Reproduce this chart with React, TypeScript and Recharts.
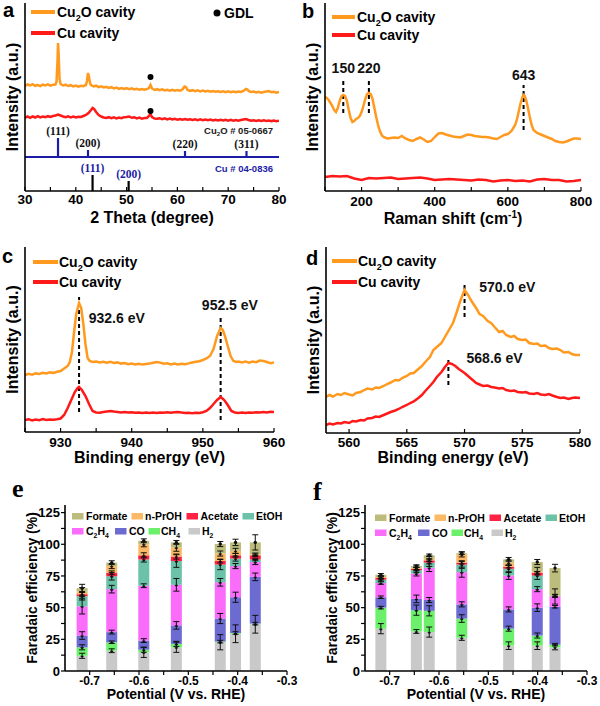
import React from "react";
import {
  LineChart,
  Line,
  BarChart,
  Bar,
  ErrorBar,
  XAxis,
  YAxis,
  ReferenceLine,
  ReferenceDot,
} from "recharts";

type Pt = [number, number];

const ORANGE = "#ff9a1f";
const RED = "#ff1a1a";
const NAVY = "#1c1ca6";
const SANS = "'Liberation Sans', Arial, sans-serif";
const SERIF = "'Liberation Serif', 'Times New Roman', serif";

// ---------- (a) XRD ----------
const xrdCu2O: Pt[] = [
  [30, 105], [30.5, 106.5], [31, 105.5], [31.5, 106.8], [32, 105.2], [32.5, 106], [33, 105], [33.5, 106.4],
  [34, 105.6], [34.5, 106.6], [35, 105.3], [35.5, 106.2], [36, 106.5], [36.2, 109], [36.4, 130], [36.5, 148],
  [36.6, 140], [36.8, 112], [37, 107], [37.5, 105.5], [38, 106.3], [38.5, 105], [39, 105.8], [39.5, 104.6],
  [40, 105.5], [40.5, 104.4], [41, 105.3], [41.5, 104.8], [42, 106], [42.2, 110], [42.4, 118], [42.6, 114],
  [42.8, 108], [43, 106], [43.5, 104.5], [44, 105.3], [44.5, 103.8], [45, 104.6], [45.5, 103.5], [46, 104.2],
  [46.5, 103], [47, 103.8], [47.5, 102.6], [48, 103.4], [48.5, 102.2], [49, 103], [49.5, 102], [50, 102.8],
  [50.5, 101.8], [51, 102.6], [51.5, 101.5], [52, 102.3], [52.5, 101.4], [53, 102], [53.5, 101.2], [54, 102],
  [54.4, 103], [54.7, 106], [55, 102.5], [55.5, 101], [56, 101.8], [56.5, 100.8], [57, 101.6], [57.5, 100.6],
  [58, 101.3], [58.5, 100.4], [59, 101.2], [59.5, 100.3], [60, 101], [60.5, 100.4], [61, 101.5], [61.4, 104.5],
  [61.7, 104], [62, 101], [62.5, 100], [63, 100.8], [63.5, 99.8], [64, 100.6], [64.5, 99.6], [65, 100.4],
  [65.5, 99.5], [66, 100.2], [66.5, 99.3], [67, 100], [67.5, 99.2], [68, 99.8], [68.5, 99], [69, 99.7],
  [69.5, 98.8], [70, 99.6], [70.5, 98.8], [71, 99.5], [71.5, 98.7], [72, 99.4], [72.5, 99], [73, 100],
  [73.5, 102], [73.8, 101.5], [74, 100], [74.5, 99], [75, 99.4], [75.5, 98.5], [76, 99.2], [76.5, 98.4],
  [77, 99], [77.5, 99.5], [78, 100], [78.5, 98.8], [79, 99.3], [79.5, 98.4], [80, 99],
];
const xrdCu: Pt[] = [
  [30, 73], [30.5, 74.5], [31, 73.2], [31.5, 74.6], [32, 73.5], [32.5, 74.8], [33, 73.6], [33.5, 74.5],
  [34, 73.8], [34.5, 74.8], [35, 74], [35.5, 75], [36, 75.5], [36.5, 76.5], [37, 75.5], [37.5, 74.5],
  [38, 73.8], [38.5, 74.6], [39, 73.6], [39.5, 74.4], [40, 73.5], [40.5, 74.3], [41, 74], [41.5, 75],
  [42, 76], [42.5, 78], [43, 81], [43.3, 83], [43.6, 82], [44, 79], [44.5, 76], [45, 74.5], [45.5, 73.5],
  [46, 73], [46.5, 73.8], [47, 72.8], [47.5, 73.6], [48, 72.6], [48.5, 73.4], [49, 72.8], [49.5, 73.8],
  [50, 74], [50.5, 74.5], [51, 73.2], [51.5, 73.8], [52, 72.6], [52.5, 73.4], [53, 72.4], [53.5, 73],
  [54, 73], [54.4, 75], [54.7, 77], [55, 74], [55.5, 72.5], [56, 72.2], [56.5, 72.8], [57, 71.8],
  [57.5, 72.6], [58, 71.6], [58.5, 72.4], [59, 71.5], [59.5, 72.2], [60, 71.4], [60.5, 72], [61, 71.3],
  [61.5, 72], [62, 71.2], [62.5, 71.8], [63, 71], [63.5, 71.7], [64, 70.9], [64.5, 71.6], [65, 70.8],
  [65.5, 71.5], [66, 70.7], [66.5, 71.4], [67, 70.6], [67.5, 71.3], [68, 70.5], [68.5, 71.2], [69, 70.5],
  [69.5, 71.2], [70, 70.4], [70.5, 71.1], [71, 70.4], [71.5, 71], [72, 70.3], [72.5, 71], [73, 71.5],
  [73.5, 72], [74, 71], [74.5, 70.3], [75, 70.8], [75.5, 70.1], [76, 70.7], [76.5, 70], [77, 70.6],
  [77.5, 70], [78, 70.5], [78.5, 69.9], [79, 70.4], [79.5, 69.8], [80, 70.2],
];
const gdlMarks: Pt[] = [[54.7, 114], [54.7, 80]];
const cu2oRefBase = 34;
const cu2oRefPos = [36.5, 42.4, 61.5, 73.6];
const cu2oRefTop = [53, 41, 40, 40];
const cu2oRefHkl = ["(111)", "(200)", "(220)", "(311)"];
const cuRefPos = [43.3, 50.4];
const cuRefTop = [16, 10];
const cuRefHkl = ["(111)", "(200)"];

// ---------- (b) Raman ----------
const ramanCu2O: Pt[] = [
  [100, 94], [105, 93], [110, 91], [115, 88], [120, 85], [125, 81], [130, 79], [135, 83], [140, 90],
  [145, 95], [150, 96], [155, 95], [160, 90], [165, 81], [170, 73], [175, 69], [180, 70], [185, 72],
  [190, 73], [195, 75], [200, 79], [205, 85], [210, 92], [215, 97], [220, 98], [225, 97], [230, 92],
  [235, 83], [240, 74], [245, 66], [250, 60], [255, 56], [260, 54], [270, 52.5], [280, 53], [290, 53.5],
  [300, 53], [310, 55], [320, 52.5], [330, 51], [340, 50], [350, 52], [360, 53.5], [370, 51.5], [380, 49],
  [390, 50], [400, 54], [410, 57.5], [420, 58], [430, 56.5], [440, 55.5], [450, 54.5], [460, 54],
  [470, 53.5], [480, 55], [490, 56.5], [500, 56], [510, 55], [520, 54.5], [530, 54], [540, 54],
  [550, 53.5], [560, 52.5], [570, 52], [580, 54], [590, 56], [600, 57], [610, 60], [620, 66], [625, 72],
  [630, 80], [635, 88], [640, 94], [643, 96], [646, 95], [650, 91], [655, 83], [660, 74], [665, 66],
  [670, 61], [680, 58], [690, 56.5], [700, 55], [710, 53.5], [720, 52], [730, 50], [740, 49], [750, 48.5],
  [760, 49.5], [770, 51], [780, 52.5], [790, 52.5], [800, 52],
];
const ramanCu: Pt[] = [
  [100, 14], [120, 15], [140, 14.5], [160, 15], [180, 12.5], [200, 11], [220, 13], [240, 12.5], [260, 13],
  [280, 13.5], [300, 12], [320, 12.5], [340, 13], [360, 13.5], [380, 12.5], [400, 11], [420, 11.5],
  [440, 12], [460, 11.5], [480, 11], [500, 10.5], [520, 11.5], [540, 11], [560, 9.5], [580, 10.5],
  [600, 11], [620, 10], [640, 10.5], [660, 9.5], [680, 11.5], [700, 12], [720, 11], [740, 11], [760, 9.5],
  [780, 10], [800, 11],
];
const ramanPeaks = [150, 220, 643];
const ramanPeakLow = [78, 78, 61];
const ramanPeakHigh = [113, 113, 106];

// ---------- (c) Cu 2p XPS ----------
const xpsCu2O: Pt[] = [
  [925, 57], [925.5, 58.2], [926, 57.4], [926.5, 58.6], [927, 58], [927.5, 59.2], [928, 58.5], [928.5, 59.6],
  [929, 59], [929.5, 60.2], [930, 61], [930.5, 63.5], [931, 66], [931.3, 70], [931.6, 80], [931.9, 100],
  [932.2, 118], [932.6, 129], [932.9, 124], [933.2, 108], [933.5, 88], [933.8, 74], [934.1, 71], [934.5, 70],
  [935, 70.5], [935.5, 69.5], [936, 70.3], [936.5, 69.2], [937, 70.2], [937.5, 69], [938, 69.6], [938.5, 68.4],
  [939, 69], [939.5, 67.8], [940, 68.5], [940.5, 67.6], [941, 68.2], [941.5, 67.4], [942, 68], [942.5, 68.4],
  [943, 69.2], [943.5, 70], [944, 69.4], [944.5, 68.2], [945, 68.8], [945.5, 67.6], [946, 68.4], [946.5, 67.5],
  [947, 68.3], [947.5, 67.8], [948, 68.6], [948.5, 69.5], [949, 70.2], [949.5, 70.8], [950, 72], [950.5, 73.5],
  [951, 76], [951.5, 83], [952, 96], [952.5, 104], [952.8, 102], [953.1, 96], [953.5, 86], [953.9, 76],
  [954.3, 71], [954.7, 70], [955, 70.5], [955.5, 69.6], [956, 70.4], [956.5, 69.4], [957, 70.5], [957.5, 69.8],
  [958, 71.5], [958.5, 71], [959, 70], [959.5, 68.8], [960, 69.5],
];
const xpsCu: Pt[] = [
  [925, 12], [925.5, 12.8], [926, 11.5], [926.5, 12.4], [927, 11.8], [927.5, 12.9], [928, 12], [928.5, 12.6],
  [929, 12.2], [929.5, 12.8], [930, 13.5], [930.5, 17], [931, 24], [931.5, 32], [932, 40], [932.4, 44],
  [932.6, 45], [933, 42], [933.5, 36], [934, 28], [934.5, 21], [935, 19.5], [935.5, 19.2], [936, 20],
  [936.5, 20.5], [937, 21], [937.5, 20.4], [938, 20], [938.5, 19.6], [939, 20], [939.5, 19.4], [940, 19.8],
  [940.5, 19.2], [941, 19.6], [941.5, 19.1], [942, 19.5], [942.5, 19], [943, 19.4], [943.5, 19], [944, 19.5],
  [944.5, 19.2], [945, 19.8], [945.5, 19.3], [946, 19.7], [946.5, 20], [947, 19.4], [947.5, 19], [948, 19.3],
  [948.5, 18.8], [949, 19.2], [949.5, 19], [950, 19.8], [950.5, 21], [951, 24], [951.5, 28], [952, 32],
  [952.5, 35], [953, 32], [953.5, 27], [954, 21], [954.5, 19.5], [955, 19], [955.5, 19.5], [956, 19],
  [956.5, 19.6], [957, 19.2], [957.5, 19.8], [958, 19.5], [958.5, 20], [959, 19.6], [959.5, 20.2], [960, 20],
];
const xpsPeaks = [932.6, 952.5];
const xpsPeakLow = [20, 12];
const xpsPeakHigh = [135, 115];
const xpsLabels = ["932.6 eV", "952.5 eV"];
const xpsLabelAt: Pt[] = [[937.9, 114], [953.8, 127]];

// ---------- (d) Cu LMM ----------
const lmmCu2O: Pt[] = [
  [558, 36], [558.3, 38], [558.6, 36.5], [559, 39], [559.3, 38], [559.6, 40], [560, 38.5], [560.3, 37.5],
  [560.6, 40], [561, 41], [561.3, 43], [561.6, 44.5], [562, 43.5], [562.3, 45.5], [562.6, 45], [563, 47],
  [563.3, 49], [563.6, 50.5], [564, 53], [564.3, 52.5], [564.6, 55], [565, 57], [565.3, 59.5], [565.6, 60],
  [566, 64], [566.3, 67], [566.6, 71], [567, 76], [567.3, 83], [567.6, 86], [568, 90], [568.3, 96],
  [568.6, 102], [569, 110], [569.3, 120], [569.6, 131], [570, 143], [570.3, 138], [570.6, 132], [571, 125],
  [571.3, 119], [571.6, 117], [572, 112], [572.3, 110], [572.6, 106], [573, 101], [573.3, 102], [573.6, 98],
  [574, 96], [574.3, 97], [574.6, 94], [575, 93], [575.3, 93.5], [575.6, 90], [576, 89], [576.3, 89.5],
  [576.6, 87], [577, 87.5], [577.3, 85], [577.6, 84], [578, 84.5], [578.3, 83], [578.6, 80.5], [579, 81],
  [579.3, 79], [579.6, 78], [580, 78],
];
const lmmCu: Pt[] = [
  [558, 8], [558.3, 9.5], [558.6, 8.5], [559, 10], [559.3, 9.5], [559.6, 11], [560, 10], [560.3, 12],
  [560.6, 11.5], [561, 13], [561.3, 12.5], [561.6, 14.5], [562, 15], [562.3, 16.5], [562.6, 16], [563, 18],
  [563.3, 19.5], [563.6, 21], [564, 22.5], [564.3, 24], [564.6, 26], [565, 28], [565.3, 30], [565.6, 31.5],
  [566, 35], [566.3, 38], [566.6, 42], [567, 47], [567.3, 51], [567.6, 56], [568, 61], [568.3, 66],
  [568.6, 70], [568.9, 69], [569.2, 67], [569.5, 64], [570, 60], [570.3, 57], [570.6, 54], [571, 50],
  [571.3, 48.5], [571.6, 47], [572, 47.5], [572.3, 46], [572.6, 45.5], [573, 44.5], [573.3, 45], [573.6, 43],
  [574, 42], [574.3, 42.5], [574.6, 41], [575, 40.5], [575.3, 41], [575.6, 39.5], [576, 39], [576.3, 40],
  [576.6, 38.5], [577, 38], [577.3, 39], [577.6, 37.5], [578, 36], [578.3, 35], [578.6, 35.5], [579, 34],
  [579.3, 35], [579.6, 35.5], [580, 35],
];
const lmmPeaks = [570, 568.6];
const lmmPeakLow = [116, 48];
const lmmPeakHigh = [151, 73];
const lmmLabels = ["570.0 eV", "568.6 eV"];
const lmmLabelAt: Pt[] = [[573.7, 146], [572.6, 75]];

// ---------- (e), (f) Faradaic efficiency ----------
const productKeys = ["H2", "CH4", "CO", "C2H4", "EtOH", "Acetate", "nPrOH", "Formate"];
const productColors = ["#c9c9c9", "#6cf06c", "#6b6bd2", "#fa6cfa", "#6cc2a8", "#ff2244", "#fbb966", "#bcbc7c"];

const potentialE = [-0.715, -0.655, -0.59, -0.524, -0.435, -0.404, -0.364];
const feE: Record<string, number[]> = {
  H2: [12, 16, 14.7, 18.7, 22.7, 29.4, 36.9],
  CH4: [6.7, 6.7, 2.1, 2.7, 0.5, 0.6, 0.5],
  CO: [9.3, 8, 7.2, 14.6, 18.2, 28.2, 36.9],
  C2H4: [23, 33.9, 43.3, 32, 28.6, 24.6, 11.7],
  EtOH: [8, 10.2, 20.7, 18.8, 14, 5.9, 2],
  Acetate: [1.6, 2.7, 3.3, 3.5, 2.8, 2.6, 3.3],
  nPrOH: [2.2, 5.3, 8.7, 7.2, 5.9, 3.5, 0.8],
  Formate: [2.6, 2.7, 2.8, 4, 7.5, 6.7, 9.4],
};
const errE: Record<string, number[]> = {
  H2: [2, 1.5, 4, 4, 6, 7, 7],
  CH4: [2, 1, 2, 2, 1, 1, 1],
  CO: [3, 1.5, 1.5, 3, 4, 4, 3],
  C2H4: [6, 3, 1.5, 5, 3, 2, 2],
  EtOH: [3, 3, 2, 5, 4, 2, 1],
  Acetate: [2, 1.5, 2, 2, 1.5, 1.5, 1],
  nPrOH: [3, 2, 2, 3, 2, 2, 1],
  Formate: [3, 1.5, 1.5, 1.5, 2, 2.5, 6],
};

const potentialF = [-0.718, -0.646, -0.62, -0.554, -0.459, -0.401, -0.365];
const feF: Record<string, number[]> = {
  H2: [33.4, 31.2, 30.7, 26.2, 20, 20, 18.7],
  CH4: [16.6, 16.8, 16.8, 15.2, 13.4, 8, 2.1],
  CO: [8.2, 8.9, 8.5, 11.2, 15.2, 22, 29.9],
  C2H4: [11.2, 20.1, 25.5, 25.4, 26.7, 14.6, 8.1],
  EtOH: [2.6, 2.6, 4, 6, 5.4, 10.7, 0.3],
  Acetate: [1.4, 1.1, 1.8, 1.5, 1.6, 2.2, 0.2],
  nPrOH: [0.8, 0.8, 1.4, 6.5, 3.2, 1.3, 0.2],
  Formate: [1.7, 1.3, 2.6, 1, 2.6, 7.2, 21.7],
};
const errF: Record<string, number[]> = {
  H2: [4, 1.5, 4, 2, 3, 3, 2],
  CH4: [1, 4, 4, 3, 2, 2, 1],
  CO: [1, 3, 2, 2, 2, 3, 1],
  C2H4: [1, 2, 3, 4, 3, 2, 6],
  EtOH: [1, 2, 3, 3, 3, 3, 1],
  Acetate: [1, 1, 1, 1, 1, 1, 1],
  nPrOH: [1, 1.5, 2, 2, 2, 3, 1],
  Formate: [1, 1, 1, 1, 1.5, 2, 3],
};

const potentialTicks = [-0.7, -0.65, -0.6, -0.55, -0.5, -0.45, -0.4, -0.35, -0.3];
const feTicks = [0, 12.5, 25, 37.5, 50, 62.5, 75, 87.5, 100, 112.5, 125];

const legendNames = ["Formate", "n-PrOH", "Acetate", "EtOH", "C_2H_4", "CO", "CH_4", "H_2"];
const legendColors = ["#bcbc7c", "#fbb966", "#ff2244", "#6cc2a8", "#fa6cfa", "#6b6bd2", "#6cf06c", "#c9c9c9"];

// ---------- helpers ----------
const toRows = (pts: Pt[]) => pts.map(([x, y]) => ({ x, y }));

const feRows = (pot: number[], fe: Record<string, number[]>, err: Record<string, number[]>) =>
  pot.map((p, i) => {
    const row: Record<string, number> = { p };
    productKeys.forEach((k) => {
      row[k] = fe[k][i];
      row[k + "Err"] = err[k][i];
    });
    return row;
  });

const Rich = ({ s, size }: { s: string; size: number }) => {
  const parts = s.split(/_(\d)/);
  const shift = size * 0.3;
  return (
    <>
      {parts.map((p, i) =>
        i % 2 === 1 ? (
          <tspan key={i} fontSize={size * 0.65} dy={shift}>
            {p}
          </tspan>
        ) : (
          <tspan key={i} dy={i === 0 ? 0 : -shift}>
            {p}
          </tspan>
        )
      )}
    </>
  );
};

const frame = { stroke: "#000", strokeWidth: 1.6 };
const tickLineStyle = { stroke: "#000", strokeWidth: 1.2 };

const isMult = (v: number, step: number) => Math.abs(v / step - Math.round(v / step)) < 1e-6;

const makeTitle = (body: React.ReactNode, offset: number, size = 16) => (props: any) => {
  const vb = props.viewBox || {};
  return (
    <text
      x={vb.x + vb.width / 2}
      y={vb.y + vb.height - offset}
      textAnchor="middle"
      fontSize={size}
      fontWeight="bold"
      fill="#000"
    >
      {body}
    </text>
  );
};

type SpecProps = {
  left: number;
  top: number;
  w: number;
  h: number;
  m: { top: number; right: number; bottom: number; left: number };
  yW: number;
  xH: number;
  xDomain: [number, number];
  xTicks: number[];
  labelStep: number;
  yMax: number;
  xTitle: any;
  tickMargin: number;
  orange: Pt[];
  red: Pt[];
  children?: React.ReactNode;
};

const Spectrum = (p: SpecProps) => (
  <div style={{ position: "absolute", left: p.left, top: p.top }}>
    <LineChart width={p.w} height={p.h} margin={p.m}>
      <XAxis
        dataKey="x"
        type="number"
        domain={p.xDomain}
        ticks={p.xTicks}
        interval={0}
        allowDataOverflow
        tickFormatter={(v: number) => (isMult(v, p.labelStep) ? String(v) : "")}
        tickSize={-4}
        tickMargin={p.tickMargin}
        height={p.xH}
        axisLine={frame}
        tickLine={tickLineStyle}
        tick={{ fontSize: 13.5, fontWeight: "bold", fill: "#000" }}
        label={p.xTitle}
      />
      <XAxis xAxisId="top" orientation="top" type="number" domain={p.xDomain} height={0} tick={false} tickLine={false} axisLine={frame} allowDataOverflow />
      <YAxis
        type="number"
        domain={[0, p.yMax]}
        width={p.yW}
        tick={false}
        tickLine={false}
        axisLine={frame}
        allowDataOverflow
        label={{ value: "Intensity (a.u.)", angle: -90, position: "center", fontSize: 16, fontWeight: "bold", fill: "#000" }}
      />
      <YAxis yAxisId="right" orientation="right" type="number" domain={[0, p.yMax]} width={0} tick={false} tickLine={false} axisLine={frame} />
      {p.children}
      <Line data={toRows(p.orange)} dataKey="y" type="linear" stroke={ORANGE} strokeWidth={2.5} dot={false} isAnimationActive={false} />
      <Line data={toRows(p.red)} dataKey="y" type="linear" stroke={RED} strokeWidth={2.5} dot={false} isAnimationActive={false} />
    </LineChart>
  </div>
);

const DotBar = (props: any) => {
  const { x, y, width, height, fill } = props;
  if (!(height > 0)) return null;
  return (
    <g>
      <rect x={x} y={y} width={width} height={height} fill={fill} />
      <circle cx={x + width / 2} cy={y} r={1.7} fill="#111" />
    </g>
  );
};

const FEChart = ({ left, top, rows }: { left: number; top: number; rows: Record<string, number>[] }) => (
  <div style={{ position: "absolute", left, top }}>
    <BarChart width={300} height={236} data={rows} margin={{ top: 35, right: 13, bottom: 0, left: 0 }} barSize={11}>
      <XAxis
        dataKey="p"
        type="number"
        domain={[-0.75, -0.3]}
        ticks={potentialTicks}
        interval={0}
        allowDataOverflow
        tickFormatter={(v: number) => (isMult(v, 0.1) ? v.toFixed(1) : "")}
        tickSize={4}
        tickMargin={1}
        height={35}
        axisLine={frame}
        tickLine={tickLineStyle}
        tick={{ fontSize: 12, fontWeight: "bold", fill: "#000" }}
        label={makeTitle("Potential (V vs. RHE)", 7, 14)}
      />
      <XAxis xAxisId="top" orientation="top" type="number" domain={[-0.75, -0.3]} height={0} tick={false} tickLine={false} axisLine={frame} allowDataOverflow />
      <YAxis
        type="number"
        domain={[0, 131]}
        ticks={feTicks}
        interval={0}
        allowDataOverflow
        tickFormatter={(v: number) => (isMult(v, 25) ? String(v) : "")}
        tickSize={4}
        tickMargin={1}
        width={65}
        axisLine={frame}
        tickLine={tickLineStyle}
        tick={{ fontSize: 13, fontWeight: "bold", fill: "#000" }}
        label={{ value: "Faradaic efficiency (%)", angle: -90, position: "center", fontSize: 14, fontWeight: "bold", fill: "#000" }}
      />
      <YAxis yAxisId="right" orientation="right" type="number" domain={[0, 131]} width={0} tick={false} tickLine={false} axisLine={frame} />
      {productKeys.map((k, i) => (
        <Bar key={k} dataKey={k} stackId="fe" fill={productColors[i]} shape={DotBar} isAnimationActive={false}>
          <ErrorBar dataKey={k + "Err"} direction="y" width={3} stroke="#111" strokeWidth={1} isAnimationActive={false} />
        </Bar>
      ))}
    </BarChart>
  </div>
);

const SpecLegend = ({ x1, x2, tx, y1, y2 }: { x1: number; x2: number; tx: number; y1: number; y2: number }) => (
  <g fontSize={14} fontWeight="bold">
    <line x1={x1} x2={x2} y1={y1} y2={y1} stroke={ORANGE} strokeWidth={4} />
    <text x={tx} y={y1 + 5}>
      <Rich s="Cu_2O cavity" size={14} />
    </text>
    <line x1={x1} x2={x2} y1={y2} y2={y2} stroke={RED} strokeWidth={4} />
    <text x={tx} y={y2 + 5}>Cu cavity</text>
  </g>
);

const legendX = [
  [72, 86, 131.5, 145, 186.5, 200.5, 242.5, 256],
  [72, 86, 115, 129, 148.5, 161, 188.5, 202],
];

const FELegend = ({ dx, y1, y2 }: { dx: number; y1: number; y2: number }) => (
  <g fontSize={10.5} fontWeight="bold">
    {legendNames.map((n, i) => {
      const row = i < 4 ? 0 : 1;
      const col = i % 4;
      const xs = legendX[row];
      const y = row === 0 ? y1 : y2;
      return (
        <g key={n}>
          <rect x={xs[col * 2] + dx} y={y - 3} width={11.5} height={6.5} fill={legendColors[i]} />
          <text x={xs[col * 2 + 1] + dx} y={y + 4}>
            <Rich s={n} size={10.5} />
          </text>
        </g>
      );
    })}
  </g>
);

const ramanTitle = makeTitle(
  <>
    Raman shift (cm
    <tspan dy={-6} fontSize={10}>
      -1
    </tspan>
    <tspan dy={6}>)</tspan>
  </>,
  6
);

export default function App() {
  return (
    <div
      style={{
        position: "absolute",
        left: 0,
        top: 0,
        width: 600,
        height: 706,
        background: "#fff",
        fontFamily: SANS,
        fontWeight: "bold",
        overflow: "hidden",
      }}
    >
      {/* (a) XRD */}
      <Spectrum
        left={0}
        top={0}
        w={300}
        h={230}
        m={{ top: 3, right: 21, bottom: 0, left: 0 }}
        yW={25}
        xH={39}
        xDomain={[30, 80]}
        xTicks={[30, 35, 40, 45, 50, 55, 60, 65, 70, 75, 80]}
        labelStep={10}
        yMax={188}
        tickMargin={7}
        xTitle={makeTitle("2 Theta (degree)", 7)}
        orange={xrdCu2O}
        red={xrdCu}
      >
        <ReferenceLine y={cu2oRefBase} stroke={NAVY} strokeWidth={2} />
        {cu2oRefPos.map((x, i) => (
          <ReferenceLine key={"s" + i} segment={[{ x, y: cu2oRefBase }, { x, y: cu2oRefTop[i] }]} stroke={NAVY} strokeWidth={2.2} />
        ))}
        {cu2oRefPos.map((x, i) => (
          <ReferenceDot
            key={"l" + i}
            x={x}
            y={cu2oRefTop[i]}
            r={1}
            fill="none"
            stroke="none"
            label={{ value: cu2oRefHkl[i], position: "top", offset: 2, fontSize: 11.5, fontWeight: "bold", fontFamily: SERIF, fill: "#111" }}
          />
        ))}
        {cuRefPos.map((x, i) => (
          <ReferenceLine key={"c" + i} segment={[{ x, y: 0 }, { x, y: cuRefTop[i] }]} stroke="#000" strokeWidth={2.2} />
        ))}
        {cuRefPos.map((x, i) => (
          <ReferenceDot
            key={"cl" + i}
            x={x}
            y={cuRefTop[i]}
            r={1}
            fill="none"
            stroke="none"
            label={{ value: cuRefHkl[i], position: "top", offset: 2, fontSize: 11.5, fontWeight: "bold", fontFamily: SERIF, fill: NAVY }}
          />
        ))}
        {gdlMarks.map(([x, y], i) => (
          <ReferenceDot key={"g" + i} x={x} y={y} r={3} fill="#000" stroke="none" />
        ))}
      </Spectrum>

      {/* (b) Raman */}
      <Spectrum
        left={300}
        top={0}
        w={300}
        h={230}
        m={{ top: 3, right: 19, bottom: 0, left: 0 }}
        yW={25}
        xH={39}
        xDomain={[100, 800]}
        xTicks={[100, 200, 300, 400, 500, 600, 700, 800]}
        labelStep={200}
        yMax={188}
        tickMargin={9}
        xTitle={ramanTitle}
        orange={ramanCu2O}
        red={ramanCu}
      >
        {ramanPeaks.map((x, i) => (
          <ReferenceLine
            key={"d" + i}
            segment={[{ x, y: ramanPeakLow[i] }, { x, y: ramanPeakHigh[i] }]}
            stroke="#000"
            strokeWidth={2}
            strokeDasharray="4 3"
          />
        ))}
        {ramanPeaks.map((x, i) => (
          <ReferenceDot
            key={"t" + i}
            x={x}
            y={ramanPeakHigh[i]}
            r={1}
            fill="none"
            stroke="none"
            label={{ value: String(x), position: "top", offset: 4, fontSize: 14, fontWeight: "bold", fill: "#111" }}
          />
        ))}
      </Spectrum>

      {/* (c) Cu 2p */}
      <Spectrum
        left={0}
        top={240}
        w={300}
        h={230}
        m={{ top: 7, right: 26, bottom: 0, left: 0 }}
        yW={25}
        xH={38}
        xDomain={[925, 960]}
        xTicks={[925, 930, 935, 940, 945, 950, 955, 960]}
        labelStep={10}
        yMax={185}
        tickMargin={9}
        xTitle={makeTitle("Binding energy (eV)", 7)}
        orange={xpsCu2O}
        red={xpsCu}
      >
        {xpsPeaks.map((x, i) => (
          <ReferenceLine
            key={"d" + i}
            segment={[{ x, y: xpsPeakLow[i] }, { x, y: xpsPeakHigh[i] }]}
            stroke="#000"
            strokeWidth={2}
            strokeDasharray="4 3"
          />
        ))}
        {xpsLabelAt.map(([x, y], i) => (
          <ReferenceDot
            key={"t" + i}
            x={x}
            y={y}
            r={1}
            fill="none"
            stroke="none"
            label={{ value: xpsLabels[i], position: "center", fontSize: 14, fontWeight: "bold", fill: "#111" }}
          />
        ))}
      </Spectrum>

      {/* (d) Cu LMM */}
      <Spectrum
        left={300}
        top={240}
        w={300}
        h={230}
        m={{ top: 7, right: 20, bottom: 0, left: 0 }}
        yW={26}
        xH={37}
        xDomain={[558, 580]}
        xTicks={[560, 565, 570, 575, 580]}
        labelStep={5}
        yMax={186}
        tickMargin={8}
        xTitle={makeTitle("Binding energy (eV)", 7)}
        orange={lmmCu2O}
        red={lmmCu}
      >
        {lmmPeaks.map((x, i) => (
          <ReferenceLine
            key={"d" + i}
            segment={[{ x, y: lmmPeakLow[i] }, { x, y: lmmPeakHigh[i] }]}
            stroke="#000"
            strokeWidth={2}
            strokeDasharray="4 3"
          />
        ))}
        {lmmLabelAt.map(([x, y], i) => (
          <ReferenceDot
            key={"t" + i}
            x={x}
            y={y}
            r={1}
            fill="none"
            stroke="none"
            label={{ value: lmmLabels[i], position: "center", fontSize: 14, fontWeight: "bold", fill: "#111" }}
          />
        ))}
      </Spectrum>

      {/* (e), (f) Faradaic efficiency */}
      <FEChart left={0} top={470} rows={feRows(potentialE, feE, errE)} />
      <FEChart left={300} top={470} rows={feRows(potentialF, feF, errF)} />

      {/* panel letters, legends, reference card labels */}
      <svg width={600} height={706} style={{ position: "absolute", left: 0, top: 0, pointerEvents: "none" }} fontFamily={SANS} fontWeight="bold">
        <text x={3} y={17} fontSize={20}>a</text>
        <text x={302} y={18} fontSize={20}>b</text>
        <text x={2} y={263} fontSize={20}>c</text>
        <text x={306} y={265} fontSize={20}>d</text>
        <text x={12} y={497} fontSize={26} fontFamily={SERIF}>e</text>
        <text x={313} y={500} fontSize={26} fontFamily={SERIF}>f</text>

        <SpecLegend x1={31} x2={55} tx={57} y1={12} y2={33} />
        <circle cx={217} cy={13} r={3.5} fill="#000" />
        <text x={224} y={18} fontSize={14}>GDL</text>
        <text x={273} y={133.5} fontSize={9.5} textAnchor="end" fill="#222">
          <Rich s="Cu_2O # 05-0667" size={9.5} />
        </text>
        <text x={273} y={171.5} fontSize={9.5} textAnchor="end" fill={NAVY}>Cu # 04-0836</text>

        <SpecLegend x1={332} x2={355} tx={357} y1={17} y2={35} />
        <SpecLegend x1={33} x2={58} tx={59} y1={262} y2={282} />
        <SpecLegend x1={332} x2={357} tx={358} y1={261} y2={282} />

        <FELegend dx={0} y1={516} y2={531} />
        <FELegend dx={303} y1={517.5} y2={532.5} />
      </svg>
    </div>
  );
}
